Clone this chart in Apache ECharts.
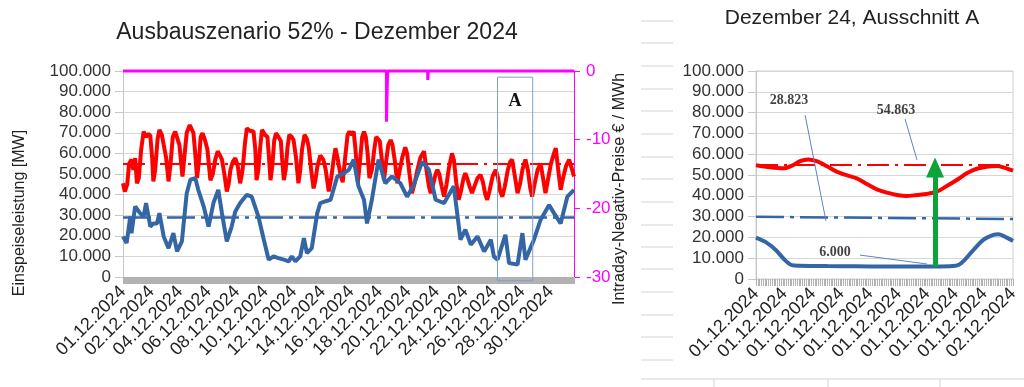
<!DOCTYPE html>
<html><head><meta charset="utf-8">
<script src="https://cdn.jsdelivr.net/npm/echarts@6/dist/echarts.min.js"></script>
<style>html,body{margin:0;padding:0;background:#fff;}#c{width:1024px;height:387px;}</style>
</head><body><div id="c"></div>
<script>
// ---------- data: month overview ----------
const monthTickLabels = ['01.12.2024','02.12.2024','04.12.2024','06.12.2024','08.12.2024','10.12.2024','12.12.2024','14.12.2024','16.12.2024','18.12.2024','20.12.2024','22.12.2024','24.12.2024','26.12.2024','28.12.2024','30.12.2024'];
const monthTickStep = 47; // hours between labels
const monthLastHour = 743;
const loadHours = [0,3,7,10,14,17,20,23,26,30,34,38,42,45,48,50,53,57,60,64,67,71,75,78,82,86,89,93,98,101,105,110,113,116,119,122,125,128,131,135,139,144,148,152,156,160,163,167,171,174,177,181,185,189,193,197,201,204,209,215,218,220,223,226,229,234,238,240,243,246,249,252,256,260,262,265,268,271,274,278,281,285,289,292,295,299,303,306,310,314,317,320,325,330,334,339,343,347,350,354,358,362,366,370,373,377,380,383,387,391,394,397,400,403,406,410,414,417,420,423,426,430,433,437,441,444,448,452,456,460,465,468,472,476,480,485,490,496,500,504,507,511,515,518,521,525,529,533,537,542,545,549,553,557,561,564,567,571,575,579,584,589,593,597,600,604,609,614,618,621,625,629,634,638,641,645,650,654,658,663,667,671,674,678,683,688,692,696,700,705,710,713,717,721,725,730,735,739,743];
const loadMW = [45500,41500,45000,55000,57000,52000,57700,45500,48000,62000,70600,68000,69500,68500,58000,46400,52000,67000,71400,69000,69000,58000,46400,54000,68000,70600,70000,64000,48800,58000,70000,73800,73500,70000,60000,48000,56000,68000,69800,66500,62000,47000,50000,57000,61000,59000,57000,50000,41500,45000,52000,56000,57700,54000,45500,52000,65000,72200,71000,70600,62000,47000,52000,63000,71400,69000,68000,60000,47000,54000,66000,69800,68000,66000,58000,47000,52000,63000,69000,68000,66500,58000,45500,52000,62000,69000,67000,63000,52000,43000,47000,53300,59000,57000,52000,41500,48000,57000,62500,57000,50000,46000,58000,69000,70600,69000,70600,62000,46000,58000,68000,70600,68000,60000,48000,52000,62000,68000,68000,66000,58000,47000,55000,64000,66500,64000,56000,45500,52000,58000,63000,60000,50000,40700,45000,52000,58000,61000,52000,44000,40700,45000,50000,52000,50000,44000,39000,45000,53000,60000,57000,46000,37500,42000,48000,50400,48000,44000,40700,44000,48000,49600,46000,40000,37500,42000,49000,52000,48000,42000,39000,44000,52000,56000,57000,50000,40700,45000,52000,57000,52000,43000,39000,45000,52000,55000,48000,40700,47000,55000,60000,62500,52000,42300,48000,54000,57000,53000,48800];
const windHours = [0,6,12,14,20,28,34,38,45,50,56,60,67,75,83,89,97,105,111,119,124,133,141,149,157,163,171,179,185,193,204,212,223,232,240,248,256,265,273,278,284,292,298,303,311,320,325,333,342,353,364,372,380,388,397,402,410,421,432,443,457,468,479,493,504,515,529,545,556,564,573,584,595,606,611,617,630,636,650,658,663,677,688,702,710,721,732,743];
const windMW = [19700,16500,29400,21300,34200,31000,29400,35900,24500,26000,26000,31000,19700,14000,21300,12400,17300,40700,47200,48000,42300,34200,24500,35900,42300,31000,17300,24500,31800,35900,39900,39000,29400,18100,8400,10000,9200,8400,7600,10000,7600,10000,18900,11600,14000,31000,35900,36700,37500,48800,50400,52000,57000,44000,37500,26000,37500,57000,45500,48800,45500,39000,44700,56000,52000,37500,35900,44000,18100,23000,15700,19700,12400,18100,10000,8400,20500,6800,6000,21300,8400,18100,27800,35000,31000,26000,39000,42300];
const priceHours = [0,434,434,436,436,502,502,503,503,743];
const priceEUR   = [0,0,-7.4,-7.4,0,0,-1.3,-1.3,0,0];
const meanLoad = 54863;
const meanWind = 28823;
const boxA = {fromHour:617, toHour:675, top:97000, bottom:-1800, labelValue:85500};

// ---------- data: zoom "Ausschnitt A" ----------
const zoomTickLabels = ['01.12.2024','01.12.2024','01.12.2024','01.12.2024','01.12.2024','01.12.2024','01.12.2024','01.12.2024','01.12.2024','02.12.2024'];
const zoomLoadX = [0,0.49,0.96,1.31,1.54,1.83,2.12,2.47,2.82,3.17,3.53,3.88,4.23,4.58,4.93,5.28,5.63,5.98,6.33,6.68,7.03,7.38,7.73,8.08,8.43,8.66,9];
const zoomLoadMW = [54700,53700,53200,54800,56700,57500,56700,54300,51600,49900,48400,45700,43100,41500,40400,39900,40400,40900,42000,44700,47600,50800,53000,54000,54300,53700,52100];
const zoomWindX = [0,0.37,0.72,1.01,1.25,1.54,2.5,3.5,4.5,5.5,6.3,6.9,7.1,7.3,7.61,7.96,8.31,8.5,8.78,9];
const zoomWindMW = [19900,17500,13600,9100,6700,6400,6200,6100,6000,6000,6000,6200,6800,9100,13900,18800,21200,21500,19900,18300];
const zoomMeanWindEnds = [29900, 28850];
const zoomMinWind = 6000;
const arrowX = 6.27, arrowTop = 53600;
const leaders = [ // [fromX, fromY, toX, toY]
  [1.72, 78800, 2.45, 27900],
  [5.22, 76900, 5.64, 57200],
  [3.64, 11500, 5.99, 7200]
];
const notePos = [[1.16, 86100],[4.9, 81300],[2.77, 13000]];

// ---------- helpers ----------
const FONT = 'Liberation Sans';
const fmtDE = v => (v < 0 ? '-' : '') + Math.round(Math.abs(v)).toString().replace(/\B(?=(\d{3})+(?!\d))/g, '.');
const zip = (a, b) => a.map((x, i) => [x, b[i]]);
const noteTexts = [fmtDE(meanWind), fmtDE(meanLoad), fmtDE(zoomMinWind)];

const chart = echarts.init(document.getElementById('c'), null, {renderer: 'canvas'});

const yLeft = (grid) => ({
  gridIndex: grid, type: 'value', min: 0, max: 100000, interval: 10000,
  axisLine: {show: true, onZero: false, lineStyle: {color: '#c8c8c8'}},
  axisTick: {show: true, length: 8, lineStyle: {color: '#c8c8c8'}},
  axisLabel: {fontSize: 17, color: '#333', margin: 12, fontFamily: FONT, formatter: v => fmtDE(v)},
  splitLine: {show: true, lineStyle: {color: '#d6d6d6'}}
});

// spreadsheet grid remnants
const deco = [];
[21,43,66,89,111,134,157,179,202,225,247,269,292,315,337,360].forEach(y => deco.push({type:'line', shape:{x1:641,y1:y,x2:673,y2:y}, style:{stroke:'#d4d4d4', lineWidth:1}, silent:true}));
deco.push({type:'line', shape:{x1:641,y1:379,x2:1024,y2:379}, style:{stroke:'#d4d4d4', lineWidth:1}, silent:true});
[714,828,940].forEach(x => deco.push({type:'line', shape:{x1:x,y1:379,x2:x,y2:387}, style:{stroke:'#d4d4d4', lineWidth:1}, silent:true}));
deco.push({type:'text', x:20, y:213, rotation:Math.PI/2, style:{text:'Einspeiseleistung [MW]', fontSize:16, fontFamily:FONT, fill:'#222', textAlign:'center', textVerticalAlign:'middle'}});
deco.push({type:'text', x:620, y:189, rotation:Math.PI/2, style:{text:'Intraday-Negativ-Preise € / MWh', fontSize:16, fontFamily:FONT, fill:'#222', textAlign:'center', textVerticalAlign:'middle'}});

const hiddenX = (grid, max, step) => ({
  gridIndex: grid, type: 'value', position: 'bottom', offset: 0, min: 0, max: max, interval: step,
  axisLine: {show: false, onZero: false}, axisLabel: {show: false}, splitLine: {show: false},
  axisTick: {show: true, length: 7, lineStyle: {color: '#b2b2b2'}}
});

const option = {
  animation: false,
  backgroundColor: '#ffffff',
  textStyle: {fontFamily: FONT},
  title: [
    {text: 'Ausbauszenario 52% - Dezember 2024', left: 317, top: 21, textAlign: 'center', padding: 0,
     textStyle: {fontSize: 23, fontWeight: 'normal', color: '#222', fontFamily: FONT}},
    {text: 'Dezember 24, Ausschnitt A', left: 852, top: 8, textAlign: 'center', padding: 0,
     textStyle: {fontSize: 21, fontWeight: 'normal', color: '#222', fontFamily: FONT}}
  ],
  grid: [
    {left: 123, top: 71, width: 451, height: 206},
    {left: 756, top: 71, width: 257, height: 208, show: true, borderColor: '#cfcfcf', borderWidth: 1, backgroundColor: 'transparent'}
  ],
  xAxis: [
    {gridIndex: 0, type: 'value', position: 'bottom', min: 0, max: monthLastHour, interval: monthTickStep,
     axisLine: {show: false, onZero: false}, axisTick: {show: false}, splitLine: {show: false},
     axisLabel: {rotate: 45, margin: 12, fontSize: 18, color: '#222', fontFamily: FONT, showMaxLabel: false, showMinLabel: true,
       formatter: v => { const i = Math.round(v / monthTickStep); return (Math.abs(v - i * monthTickStep) < 1e-6 && monthTickLabels[i]) ? monthTickLabels[i] : ''; }}},
    hiddenX(0, monthLastHour, 1),
    {gridIndex: 1, type: 'value', position: 'bottom', min: 0, max: 9, interval: 1,
     axisLine: {show: false, onZero: false}, axisTick: {show: false}, splitLine: {show: false},
     axisLabel: {rotate: 45, margin: 12, fontSize: 18, color: '#222', fontFamily: FONT, showMaxLabel: true,
       formatter: v => zoomTickLabels[Math.round(v)] || ''}},
    hiddenX(1, 9, 0.0625)
  ],
  yAxis: [
    yLeft(0),
    {gridIndex: 0, type: 'value', position: 'right', min: -30, max: 0, interval: 10,
     axisLine: {show: true, onZero: false, lineStyle: {color: '#ff00ff'}},
     axisTick: {show: true, length: 6, lineStyle: {color: '#ff00ff'}},
     axisLabel: {fontSize: 17, color: '#ff00ff', margin: 12, fontFamily: FONT},
     splitLine: {show: false}},
    yLeft(1)
  ],
  series: [
    {type: 'line', name: 'Mittel Last', xAxisIndex: 0, yAxisIndex: 0, data: [[0, meanLoad], [monthLastHour, meanLoad]],
     showSymbol: false, silent: true, lineStyle: {color: '#ff0000', width: 2, type: [22, 6, 3, 6]}, z: 2},
    {type: 'line', name: 'Mittel Wind', xAxisIndex: 0, yAxisIndex: 0, data: [[0, meanWind], [monthLastHour, meanWind]],
     showSymbol: false, silent: true, lineStyle: {color: '#3465a4', width: 2.5, type: [28, 6, 4, 6]}, z: 2},
    {type: 'line', name: 'Last', xAxisIndex: 0, yAxisIndex: 0, data: zip(loadHours, loadMW),
     showSymbol: false, lineStyle: {color: '#ff0000', width: 4}, z: 3},
    {type: 'line', name: 'Wind', xAxisIndex: 0, yAxisIndex: 0, data: zip(windHours, windMW),
     showSymbol: false, lineStyle: {color: '#3465a4', width: 4}, z: 4},
    {type: 'line', name: 'Preis', xAxisIndex: 0, yAxisIndex: 1, data: zip(priceHours, priceEUR),
     showSymbol: false, clip: false, lineStyle: {color: '#ff00ff', width: 3}, z: 5},
    // zoom panel
    {type: 'line', name: 'Mittel Last A', xAxisIndex: 2, yAxisIndex: 2, data: [[0, meanLoad], [9, meanLoad]],
     showSymbol: false, silent: true, lineStyle: {color: '#ff0000', width: 2, type: [22, 6, 3, 6]}, z: 2},
    {type: 'line', name: 'Mittel Wind A', xAxisIndex: 2, yAxisIndex: 2, data: [[0, zoomMeanWindEnds[0]], [9, zoomMeanWindEnds[1]]],
     showSymbol: false, silent: true, lineStyle: {color: '#3465a4', width: 2.5, type: [28, 6, 4, 6]}, z: 2},
    {type: 'line', name: 'Last A', xAxisIndex: 2, yAxisIndex: 2, data: zip(zoomLoadX, zoomLoadMW), smooth: 0.3,
     showSymbol: false, lineStyle: {color: '#ff0000', width: 4}, z: 3},
    {type: 'line', name: 'Wind A', xAxisIndex: 2, yAxisIndex: 2, data: zip(zoomWindX, zoomWindMW), smooth: 0.3,
     showSymbol: false, lineStyle: {color: '#3465a4', width: 4}, z: 4},
    {type: 'line', name: 'Notes', xAxisIndex: 2, yAxisIndex: 2, data: [], z: 6,
     markLine: {silent: true, animation: false, symbol: 'none', label: {show: false},
       lineStyle: {color: '#5b85c4', width: 1, type: 'solid'},
       data: leaders.map(l => [{coord: [l[0], l[1]]}, {coord: [l[2], l[3]]}])}},
    {type: 'line', name: 'Arrow', xAxisIndex: 2, yAxisIndex: 2, data: [], z: 7,
     markLine: {silent: true, animation: false, symbol: ['none', 'triangle'], symbolSize: [18, 20], label: {show: false},
       lineStyle: {color: '#0ca33a', width: 5, type: 'solid', opacity: 1},
       data: [[{coord: [arrowX, zoomMinWind]}, {coord: [arrowX, arrowTop]}]]}},
    {type: 'scatter', name: 'NoteText', xAxisIndex: 2, yAxisIndex: 2, symbolSize: 1, itemStyle: {color: 'rgba(0,0,0,0)'}, z: 8, silent: true,
     data: notePos.map((p, i) => ({value: p, name: noteTexts[i]})),
     label: {show: true, position: 'inside', formatter: '{b}', fontFamily: 'Liberation Serif', fontWeight: 'bold', fontSize: 14, color: '#111'}}
  ],
  graphic: deco
};
chart.setOption(option);

// Box "A" in data coordinates of the month chart
const p1 = chart.convertToPixel({xAxisIndex: 0, yAxisIndex: 0}, [boxA.fromHour, boxA.top]);
const p2 = chart.convertToPixel({xAxisIndex: 0, yAxisIndex: 0}, [boxA.toHour, boxA.bottom]);
const pA = chart.convertToPixel({xAxisIndex: 0, yAxisIndex: 0}, [(boxA.fromHour + boxA.toHour) / 2, boxA.labelValue]);
chart.setOption({graphic: deco.concat([
  {type: 'rect', shape: {x: p1[0], y: p1[1], width: p2[0] - p1[0], height: p2[1] - p1[1]}, style: {fill: 'none', stroke: '#7f9fcf', lineWidth: 1}, z: 10, silent: true},
  {type: 'text', x: pA[0], y: pA[1], style: {text: 'A', fontSize: 18, fontWeight: 'bold', fontFamily: 'Liberation Serif', fill: '#111', textAlign: 'center', textVerticalAlign: 'middle'}, z: 10, silent: true}
])});
</script>
</body></html>
